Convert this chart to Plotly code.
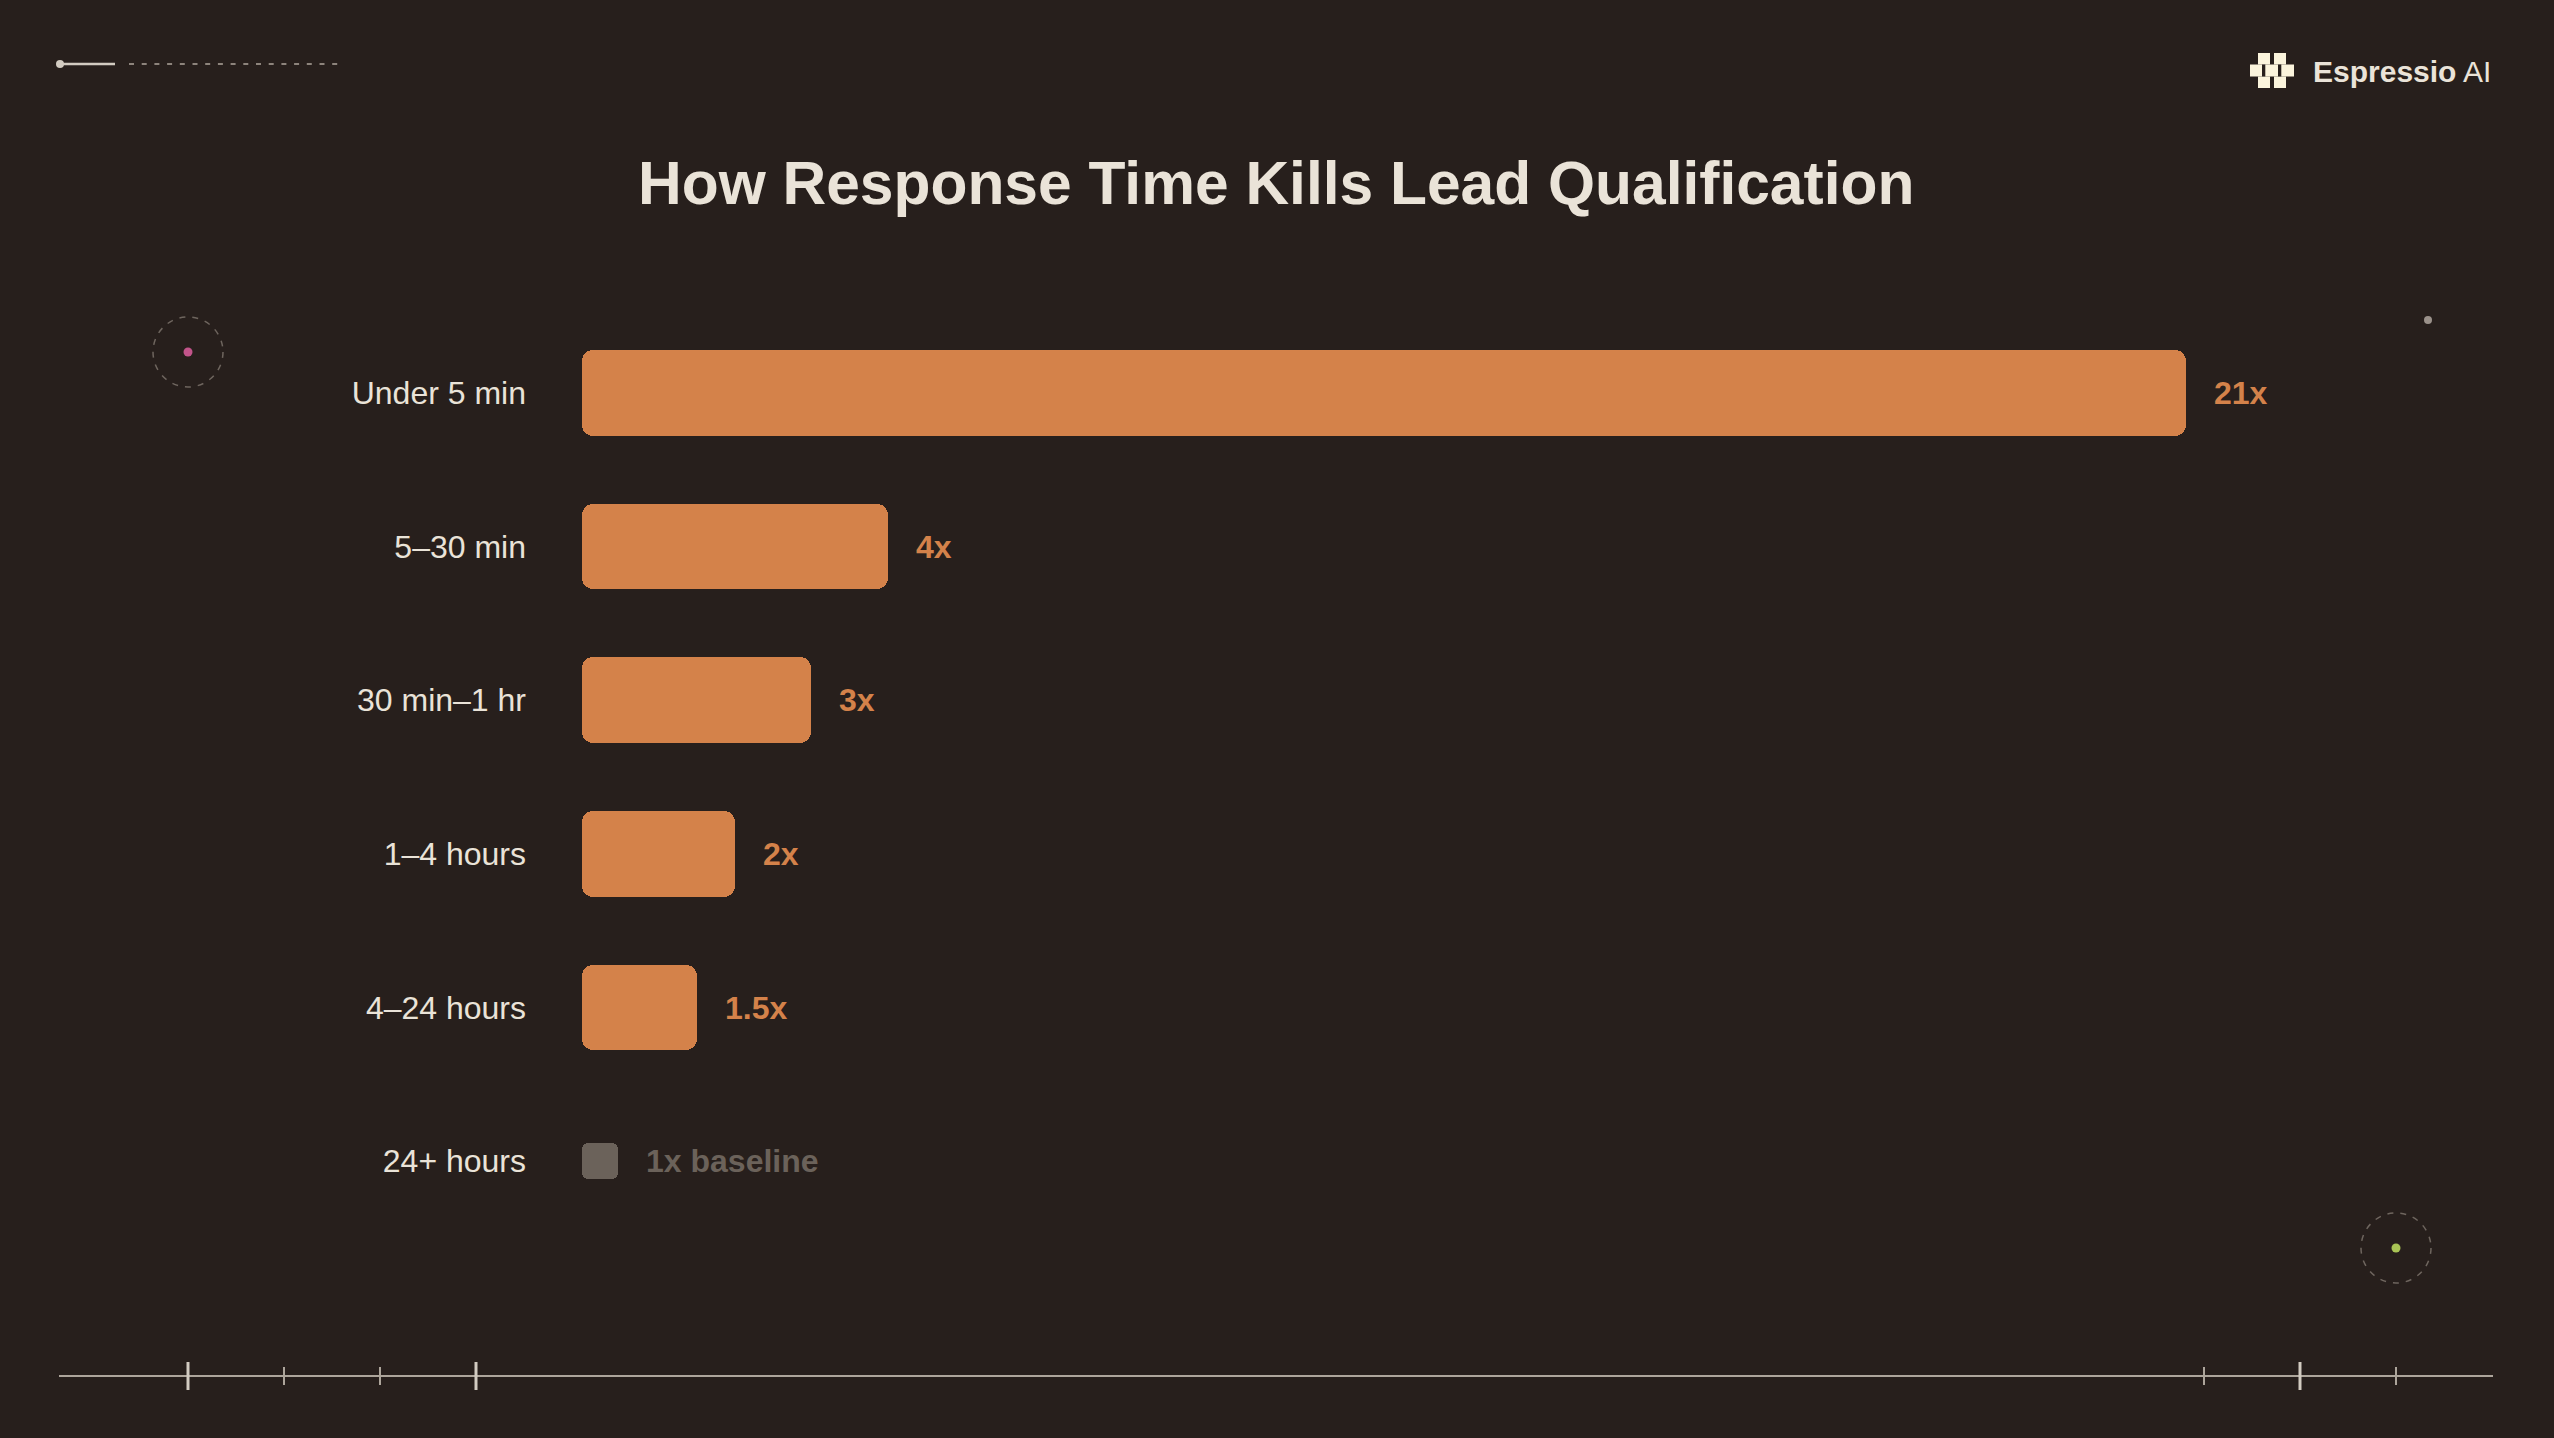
import plotly.graph_objects as go

# ---------------- data ----------------
categories = ["Under 5 min", "5–30 min", "30 min–1 hr", "1–4 hours", "4–24 hours", "24+ hours"]
multipliers = [21, 4, 3, 2, 1.5, 1]
value_labels = ["21x", "4x", "3x", "2x", "1.5x", "1x baseline"]
baseline_category = "24+ hours"
title_text = "How Response Time Kills Lead Qualification"
brand_bold = "Espressio"
brand_regular = "AI"

# ---------------- style ----------------
W, H = 2554, 1438
BG = "#271F1C"
ORANGE = "#D4824A"
BASE_GRAY = "#6B625A"
TEXT = "#EAE3D8"
LINE = "#ADA59B"
LINE_LIGHT = "#D2CBC1"
DASH_GRAY = "#6E655E"
FONT = "Liberation Sans, Arial, Helvetica, sans-serif"

X_DOMAIN_START = 582 / W
X_RANGE_MAX = 25.82
PX_PER_UNIT = W * (1 - X_DOMAIN_START) / X_RANGE_MAX
Y_DOMAIN = [(H - 1238) / H, (H - 316) / H]
BAR_WIDTH = 0.557
BASE_MARK_PX = 36
BASE_MARK_WIDTH = 0.234
RADIUS = 11


def px(x):
    return x / W


def py(y):
    return 1 - y / H


fig = go.Figure()

main_cats = [c for c in categories if c != baseline_category]
main_vals = [v for c, v in zip(categories, multipliers) if c != baseline_category]
base_len = BASE_MARK_PX / PX_PER_UNIT


# each bar = two overlapping halves so all four corners are rounded
def add_rounded_bars(cats, vals, color, width, radius):
    fig.add_trace(go.Bar(
        y=cats, x=[-0.6 * v for v in vals], base=[0.6 * v for v in vals],
        orientation="h", width=width, marker=dict(color=color, line=dict(width=0), cornerradius=radius),
        hoverinfo="skip", showlegend=False))
    fig.add_trace(go.Bar(
        y=cats, x=[0.6 * v for v in vals], base=[0.4 * v for v in vals],
        orientation="h", width=width, marker=dict(color=color, line=dict(width=0), cornerradius=radius),
        hoverinfo="skip", showlegend=False))


add_rounded_bars(main_cats, main_vals, ORANGE, BAR_WIDTH, RADIUS)
add_rounded_bars([baseline_category], [base_len], BASE_GRAY, BASE_MARK_WIDTH, 6)

annotations = []
for c, v, lab in zip(categories, multipliers, value_labels):
    is_base = c == baseline_category
    annotations.append(dict(
        x=base_len if is_base else v, y=c, xref="x", yref="y",
        text=f"<b>{lab}</b>", showarrow=False, xanchor="left", yanchor="middle",
        xshift=26, font=dict(family=FONT, size=32, color=BASE_GRAY if is_base else ORANGE)))

# title
annotations.append(dict(
    x=px(1275.5), y=py(183), xref="paper", yref="paper", text=f"<b>{title_text}</b>",
    showarrow=False, xanchor="center", yanchor="middle",
    font=dict(family=FONT, size=60.5, color=TEXT)))
# brand
annotations.append(dict(
    x=px(2311), y=py(71), xref="paper", yref="paper",
    text=f"<b>{brand_bold}</b> {brand_regular}",
    showarrow=False, xanchor="left", yanchor="middle",
    font=dict(family=FONT, size=30, color=TEXT)))

shapes = []


def rect(x0, y0, x1, y1, color):
    shapes.append(dict(type="rect", xref="paper", yref="paper", x0=px(x0), x1=px(x1),
                       y0=py(y1), y1=py(y0), fillcolor=color, line=dict(width=0), layer="above"))


def circle(cx, cy, r, fill=None, line_color=None, line_width=0, dash=None):
    shapes.append(dict(type="circle", xref="paper", yref="paper",
                       x0=px(cx - r), x1=px(cx + r), y0=py(cy + r), y1=py(cy - r),
                       fillcolor=fill if fill else "rgba(0,0,0,0)",
                       line=dict(color=line_color if line_color else "rgba(0,0,0,0)",
                                 width=line_width, dash=dash if dash else "solid")))


def line(x0, y0, x1, y1, color, width, dash="solid"):
    shapes.append(dict(type="line", xref="paper", yref="paper", x0=px(x0), x1=px(x1),
                       y0=py(y0), y1=py(y1), line=dict(color=color, width=width, dash=dash)))


# top-left decoration
line(60, 64, 115, 64, LINE_LIGHT, 2.5)
circle(60, 64, 4, fill=LINE_LIGHT)
line(129, 64, 340, 64, "#8D847C", 2, dash="5px,7.7px")

# logo icon
CREAM = "#FBF4DC"
rect(2258, 53, 2270, 64.5, CREAM)
rect(2274, 53, 2286, 64.5, CREAM)
rect(2250, 64.5, 2294, 76.5, CREAM)
rect(2258, 76.5, 2270, 88, CREAM)
rect(2274, 76.5, 2286, 88, CREAM)
rect(2262, 64.5, 2265.3, 76.5, BG)
rect(2278, 64.5, 2281.3, 76.5, BG)

# dashed circles with dots
circle(188, 352, 35, line_color=DASH_GRAY, line_width=1.5, dash="6px,7px")
circle(188, 352, 4.5, fill="#C2548A")
circle(2396, 1248, 35, line_color=DASH_GRAY, line_width=1.5, dash="6px,7px")
circle(2396, 1248, 4.5, fill="#A9C455")
circle(2428, 320, 4, fill="#9A918A")

# bottom ruler
line(59, 1376, 2493, 1376, LINE, 2)
for t in [188, 476, 2300]:
    line(t, 1362, t, 1390, LINE_LIGHT, 3)
for t in [284, 380, 2204, 2396]:
    line(t, 1367, t, 1385, LINE, 2)

fig.update_layout(
    width=W, height=H, margin=dict(l=0, r=0, t=0, b=0, pad=0),
    paper_bgcolor=BG, plot_bgcolor=BG, barmode="overlay", bargap=0,
    showlegend=False, annotations=annotations, shapes=shapes,
    xaxis=dict(domain=[X_DOMAIN_START, 1], range=[0, X_RANGE_MAX], visible=False, fixedrange=True),
    yaxis=dict(domain=Y_DOMAIN, type="category", categoryorder="array", categoryarray=categories,
               range=[len(categories) - 0.5, -0.5], showgrid=False, zeroline=False, showline=False,
               ticks="", ticklabelstandoff=55,
               tickfont=dict(family=FONT, size=32, color=TEXT), fixedrange=True),
    font=dict(family=FONT),
)

fig.write_html("out.html", config={"displayModeBar": False},
               post_script="document.body.style.margin='0';document.body.style.overflow='hidden';")
